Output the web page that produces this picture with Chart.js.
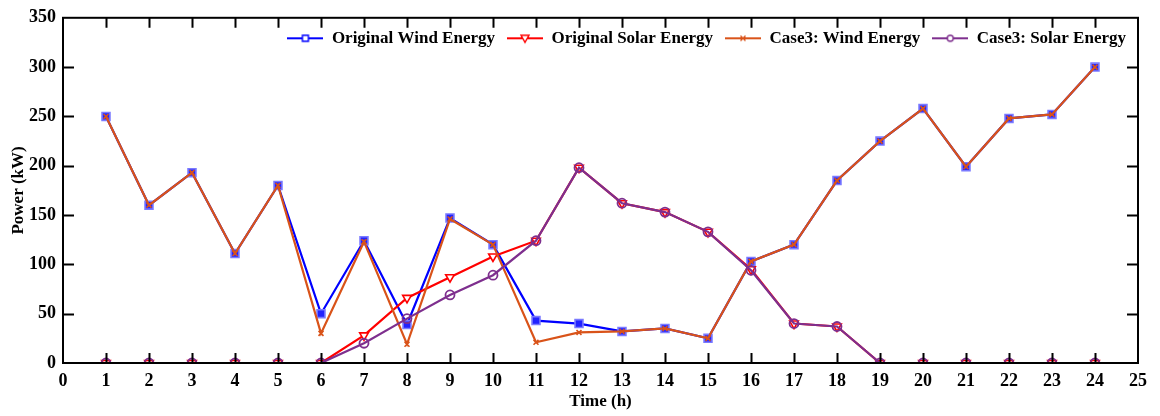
<!DOCTYPE html>
<html><head><meta charset="utf-8">
<script src="https://cdn.jsdelivr.net/npm/chart.js@4/dist/chart.umd.min.js"></script>
<style>html,body{margin:0;padding:0;background:#fff}#wrap{width:1160px;height:416px}</style>
</head><body><div id="wrap"><canvas id="c" width="1160" height="416"></canvas></div>
<script>
const hours = [1,2,3,4,5,6,7,8,9,10,11,12,13,14,15,16,17,18,19,20,21,22,23,24];
const originalWind  = [250,160,193,111,180,50,124,39,147,120,43,40,32,35,25,103,120,185,225,258,199,248,252,300];
const originalSolar = [0,0,0,0,0,0,28,66,87,108,124,198,162,153,133,95,40,37,0,0,0,0,0,0];
const case3Wind     = [250,160,193,111,180,30,123,19,146,120,21,31,32,35,25,103,120,185,225,258,199,248,252,300];
const case3Solar    = [0,0,0,0,0,0,20,45,69,89,124,198,162,153,133,94,40,37,0,0,0,0,0,0];
const seriesNames = ['Original Wind Energy','Original Solar Energy','Case3: Wind Energy','Case3: Solar Energy'];
const xTicks = [0,1,2,3,4,5,6,7,8,9,10,11,12,13,14,15,16,17,18,19,20,21,22,23,24,25];
const yTicks = [0,50,100,150,200,250,300,350];

const FONT = '"Liberation Serif", "Times New Roman", serif';
const BLUE='#0000FF', RED='#FF0000', ORANGE='#D95319', PURPLE='#7E2F8E';

function pts(arr){ return arr.map((v,i)=>({x:hours[i], y:v})); }

function icon(color, style, fill, edge){
  const c = document.createElement('canvas'); c.width=36; c.height=14;
  const g = c.getContext('2d');
  g.strokeStyle=color; g.lineWidth=2.2;
  g.beginPath(); g.moveTo(0,7); g.lineTo(36,7); g.stroke();
  g.lineWidth=1.4; g.fillStyle=fill; g.strokeStyle=edge||color;
  const x=18,y=7;
  g.beginPath();
  if(style==='rect'){ g.rect(x-3,y-3,6,6); g.fill(); g.stroke(); }
  else if(style==='tri'){ g.moveTo(x-4,y-3); g.lineTo(x+4,y-3); g.lineTo(x,y+4); g.closePath(); g.fill(); g.stroke(); }
  else if(style==='x'){ g.moveTo(x-2.5,y-2.5); g.lineTo(x+2.5,y+2.5); g.moveTo(x+2.5,y-2.5); g.lineTo(x-2.5,y+2.5); g.stroke(); }
  else { g.arc(x,y,3,0,Math.PI*2); g.fill(); g.stroke(); }
  return c;
}
const icons = [icon(BLUE,'rect','#fff',BLUE), icon(RED,'tri','#fff'), icon(ORANGE,'x','#fff'), icon(PURPLE,'circ','#fff')];

const framePlugin = {
  id:'frame',
  beforeUpdate(chart){
    const lg = chart.legend;
    if(lg && !lg._patched){
      const f = lg.fit;
      lg.fit = function(){ f.call(this); this._realH = this.height; this.height = 0; };
      lg._patched = true;
    }
  },
  afterLayout(chart){
    const lg = chart.legend;
    if(lg && lg._realH){ lg.height = lg._realH; lg.bottom = lg.top + lg._realH; }
  },
  afterDatasetsDraw(chart){
    const {ctx, chartArea:a, scales:{x,y}} = chart;
    ctx.save();
    ctx.strokeStyle='#000'; ctx.lineWidth=2;
    ctx.strokeRect(a.left, a.top, a.right-a.left, a.bottom-a.top);
    ctx.beginPath();
    xTicks.forEach(v=>{ if(v===0||v===25) return; const px=Math.round(x.getPixelForValue(v))+0.5;
      ctx.moveTo(px,a.bottom); ctx.lineTo(px,a.bottom-10); ctx.moveTo(px,a.top); ctx.lineTo(px,a.top+10); });
    yTicks.forEach(v=>{ if(v===0||v===350) return; const py=Math.round(y.getPixelForValue(v))+0.5;
      ctx.moveTo(a.left,py); ctx.lineTo(a.left+11,py); ctx.moveTo(a.right,py); ctx.lineTo(a.right-11,py); });
    ctx.stroke();
    ctx.restore();
  }
};

new Chart(document.getElementById('c'), {
  type:'line',
  data:{ datasets:[
    {label:seriesNames[0], data:pts(originalWind), borderColor:BLUE, backgroundColor:'#2222ff', borderWidth:2.2,
     pointStyle:'rect', pointRadius:5.6, pointBorderWidth:1.6, pointBorderColor:'#7a7aff', order:4},
    {label:seriesNames[1], data:pts(originalSolar), borderColor:RED, backgroundColor:'#fff', borderWidth:2.2,
     pointStyle:'triangle', pointRotation:180, pointRadius:5, pointBorderWidth:1.6, pointBorderColor:RED, order:3},
    {label:seriesNames[2], data:pts(case3Wind), borderColor:ORANGE, backgroundColor:ORANGE, borderWidth:2.2,
     pointStyle:'crossRot', pointRadius:3.5, pointBorderWidth:1.6, pointBorderColor:ORANGE, order:2},
    {label:seriesNames[3], data:pts(case3Solar), borderColor:PURPLE, backgroundColor:'rgba(255,255,255,0)', borderWidth:2.2,
     pointStyle:'circle', pointRadius:4.5, pointBorderWidth:1.8, pointBorderColor:PURPLE, order:1}
  ]},
  options:{
    responsive:false, animation:false,
    layout:{padding:{top:14,right:22,left:0,bottom:0}},
    plugins:{
      tooltip:{enabled:false},
      legend:{
        position:'top', align:'end',
        labels:{
          usePointStyle:true, pointStyleWidth:36, padding:12, color:'#000',
          font:{family:FONT, size:17, weight:'bold'},
          sort:(a,b)=>a.datasetIndex-b.datasetIndex,
          generateLabels(chart){
            return chart.data.datasets.map((d,i)=>({text:d.label, pointStyle:icons[i], datasetIndex:i,
              fillStyle:'#fff', strokeStyle:'#fff', lineWidth:0, fontColor:'#000', hidden:false}));
          }
        }
      }
    },
    scales:{
      x:{type:'linear', min:0, max:25,
        afterFit(s){ s.height=53; },
        afterBuildTicks(s){ s.ticks = xTicks.map(v=>({value:v})); },
        grid:{display:false, drawTicks:false}, border:{display:false},
        ticks:{color:'#000', padding:8, maxRotation:0, autoSkip:false, font:{family:FONT,size:18,weight:'bold'}},
        title:{display:true, text:'Time (h)', color:'#000', padding:{top:2,bottom:4}, font:{family:FONT,size:17,weight:'bold'}}
      },
      y:{min:0, max:350,
        afterFit(s){ s.width=63; },
        afterBuildTicks(s){ s.ticks = yTicks.map(v=>({value:v})); },
        grid:{display:false, drawTicks:false}, border:{display:false},
        ticks:{color:'#000', padding:7, font:{family:FONT,size:18,weight:'bold'}},
        title:{display:true, text:'Power (kW)', color:'#000', padding:{top:8,bottom:2}, font:{family:FONT,size:17,weight:'bold'}}
      }
    }
  },
  plugins:[framePlugin]
});
</script></body></html>
